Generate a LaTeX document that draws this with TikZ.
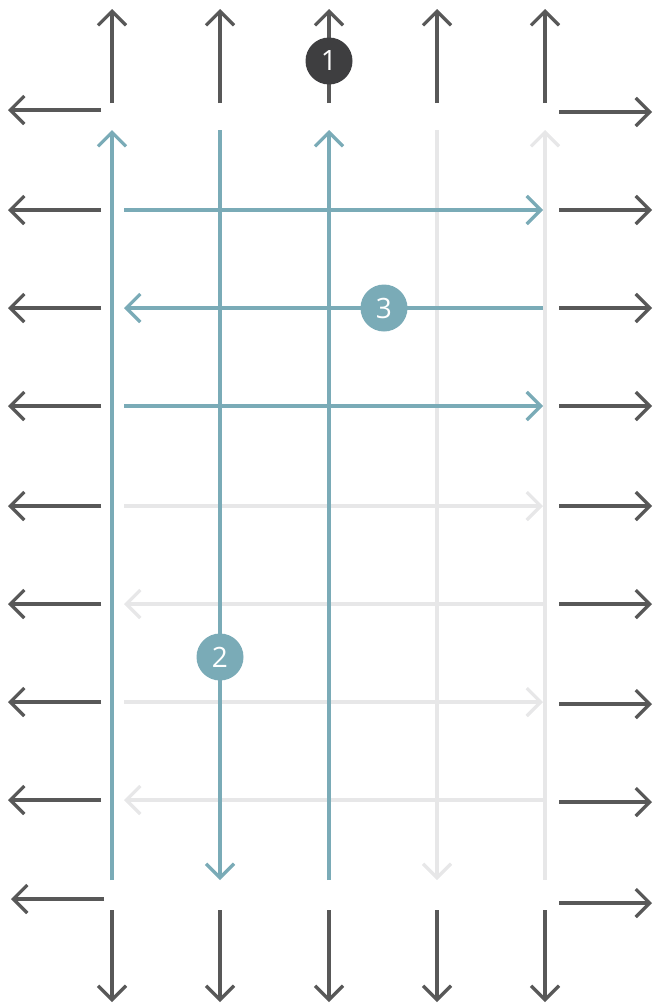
\documentclass[tikz,border=0pt]{standalone}
\usepackage{fontspec}
\setmainfont{Open Sans}
\usetikzlibrary{arrows.meta}
\definecolor{outgrey}{RGB}{88,88,88}
\definecolor{flowteal}{RGB}{122,171,183}
\definecolor{idlegrey}{RGB}{231,231,232}
\definecolor{markdark}{RGB}{62,62,64}

\begin{document}
\begin{tikzpicture}[x=1pt,y=-1pt,line width=3.2pt,
  every node/.style={font=\fontsize{28}{28}\selectfont},
  tip/.style={-{Straight Barb[length=14pt,width=28pt]}},
  stepmark/.style={circle,minimum size=47pt,inner sep=0pt,text=white}]
  \useasboundingbox (0,0) rectangle (653,1004);
  % outer arrows, top and bottom
  \foreach \c/\x in {1/112,2/220,3/329,4/437,5/545} {
    \coordinate (top\c) at (\x,103); \coordinate (topend\c) at (\x,9);
    \coordinate (bot\c) at (\x,910); \coordinate (botend\c) at (\x,1002);
    \draw[outgrey,tip] (top\c) -- (topend\c);
    \draw[outgrey,tip] (bot\c) -- (botend\c);
  }
  % outer arrows, left and right
  \foreach \r/\xl/\yl/\yr in {1/101/110/112,2/101/210/210,3/101/308/308,4/101/406/406,5/101/506/506,6/101/604/604,7/101/702/704,8/101/800/802,9/104/899/903} {
    \coordinate (lft\r) at (\xl,\yl); \coordinate (lftend\r) at ({\xl-93},\yl);
    \coordinate (rgt\r) at (559,\yr); \coordinate (rgtend\r) at (652,\yr);
    \draw[outgrey,tip] (lft\r) -- (lftend\r);
    \draw[outgrey,tip] (rgt\r) -- (rgtend\r);
  }
  % inner lanes
  \foreach \r/\y in {2/210,3/308,4/406,5/506,6/604,7/702,8/800} {
    \coordinate (w\r) at (124,\y); \coordinate (e\r) at (543,\y);
  }
  \foreach \c/\x in {1/112,2/220,3/329,4/437,5/545} {
    \coordinate (n\c) at (\x,130); \coordinate (s\c) at (\x,880);
  }
  \draw[idlegrey,tip] (w5) -- (e5);
  \draw[idlegrey,tip] (e6) -- (w6);
  \draw[idlegrey,tip] (w7) -- (e7);
  \draw[idlegrey,tip] (e8) -- (w8);
  \draw[idlegrey,tip] (n4) -- (s4);
  \draw[idlegrey,tip] (s5) -- (n5);
  \draw[flowteal,tip] (s1) -- (n1);
  \draw[flowteal,tip] (n2) -- (s2);
  \draw[flowteal,tip] (s3) -- (n3);
  \draw[flowteal,tip] (w2) -- (e2);
  \draw[flowteal,tip] (e3) -- (w3);
  \draw[flowteal,tip] (w4) -- (e4);
  % numbered marks
  \node[stepmark,fill=markdark] (m1) at (329,61) {1};
  \node[stepmark,fill=flowteal] (m2) at (220,657) {2};
  \node[stepmark,fill=flowteal] (m3) at (384,308) {3};
\end{tikzpicture}
\end{document}
